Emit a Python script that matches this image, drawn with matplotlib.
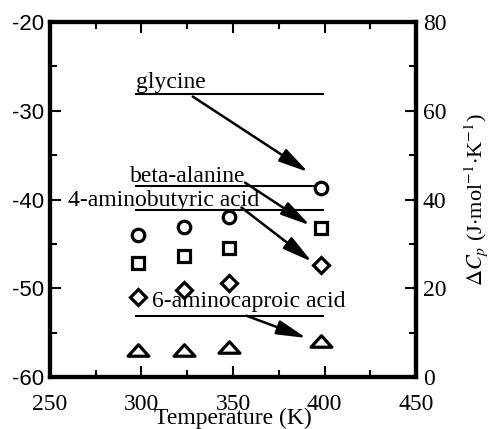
import matplotlib.pyplot as plt
from matplotlib.path import Path

plt.rcParams['axes.unicode_minus'] = False
plt.rcParams['mathtext.fontset'] = 'stix'

# temperatures (K)
temps = [298, 323, 348, 398]

# data points (left axis units)
glycine = [-44.0, -43.1, -42.0, -38.7]
beta_alanine = [-47.2, -46.4, -45.5, -43.2]
aminobutyric = [-51.0, -50.2, -49.4, -47.4]
aminocaproic = [-57.0, -57.0, -56.6, -55.9]

# horizontal reference lines (left axis units)
line_names = ['glycine', 'beta-alanine', '4-aminobutyric acid', '6-aminocaproic acid']
line_levels = [-28.1, -38.5, -41.2, -53.1]
line_x = [297, 399]

# label positions (baseline) and arrows (start, end) in data coordinates
label_pos = [(297, -27.4), (293.7, -38.0), (259.8, -40.7), (305.7, -52.1)]
arrow_start = [(328, -28.4), (356.6, -38.1), (354.6, -40.9), (357.4, -53.1)]
arrow_end = [(391, -36.9), (392, -42.9), (393, -47.0), (390, -55.6)]

serif = 'Liberation Serif'
sans = 'Liberation Sans'

# flattened triangle like in the original
flat_tri = Path([(-1.0, -0.55), (1.0, -0.55), (0.0, 0.55), (-1.0, -0.55)],
                [Path.MOVETO, Path.LINETO, Path.LINETO, Path.CLOSEPOLY])

fig = plt.figure(figsize=(4.92, 4.29), dpi=100)
ax = fig.add_axes([0.1016, 0.1212, 0.744, 0.8275])

for lvl in line_levels:
    ax.plot(line_x, [lvl, lvl], color='black', lw=1.5)

mk = dict(ls='none', mfc='white', mec='black', mew=2.3, zorder=5)
ax.plot(temps, glycine, marker='o', ms=9, **mk)
ax.plot(temps, beta_alanine, marker='s', ms=8.5, **mk)
ax.plot(temps, aminobutyric, marker='D', ms=8.5, **mk)
ax.plot(temps, aminocaproic, marker=flat_tri, ms=15, **mk)

for name, pos in zip(line_names, label_pos):
    ax.text(pos[0], pos[1], name, fontsize=17, family=serif, ha='left', va='baseline')

for s, e in zip(arrow_start, arrow_end):
    ax.annotate('', xy=e, xytext=s,
                arrowprops=dict(arrowstyle='-|>,head_length=0.9,head_width=0.22',
                                color='black', lw=1.8, mutation_scale=20,
                                shrinkA=0, shrinkB=0))

ax.set_xlim(250, 450)
ax.set_ylim(-60, -20)
ax.set_xticks([250, 300, 350, 400, 450])
ax.set_xticks([275, 325, 375, 425], minor=True)
ax.set_yticks([-60, -50, -40, -30, -20])
ax.set_yticks([-55, -45, -35, -25], minor=True)
ax.tick_params(which='both', direction='in', top=True, right=False, width=1.5)
ax.tick_params(which='major', length=8)
ax.tick_params(which='minor', length=5)
ax.tick_params(axis='y', pad=4)
ax.tick_params(axis='x', pad=12)
for lab in ax.get_yticklabels():
    lab.set_fontfamily(sans)
    lab.set_fontsize(16)
for lab in ax.get_xticklabels():
    lab.set_fontfamily(serif)
    lab.set_fontsize(17)
for sp in ax.spines.values():
    sp.set_linewidth(3)
ax.set_xlabel('Temperature (K)', fontsize=17, family=serif, labelpad=-5)

ax2 = ax.twinx()
ax2.set_ylim(0, 80)
ax2.set_yticks([0, 20, 40, 60, 80])
ax2.set_yticks([10, 30, 50, 70], minor=True)
ax2.tick_params(which='both', direction='in', width=1.5, pad=5)
ax2.tick_params(which='major', length=8)
ax2.tick_params(which='minor', length=5)
for lab in ax2.get_yticklabels():
    lab.set_fontfamily(serif)
    lab.set_fontsize(17)
for sp in ax2.spines.values():
    sp.set_linewidth(3)
ax2.set_ylabel(r'$\Delta C_p$ (J$\cdot$mol$^{-1}$$\cdot$K$^{-1}$)', fontsize=16,
               family=serif, labelpad=11)

fig.savefig('out.png', dpi=100)
